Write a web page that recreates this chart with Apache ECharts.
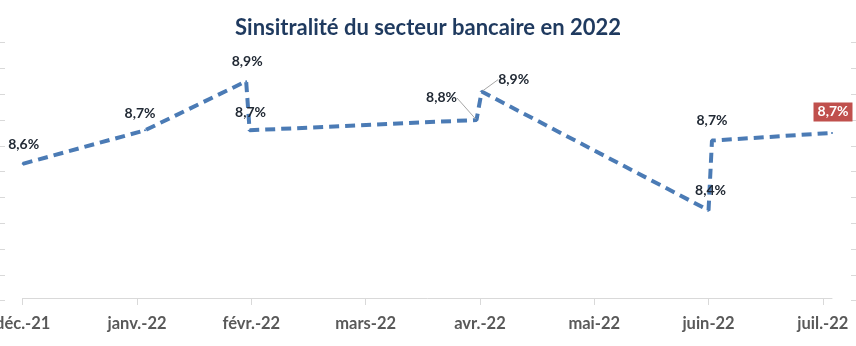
<!DOCTYPE html>
<html>
<head>
<meta charset="utf-8">
<script src="https://cdn.jsdelivr.net/npm/echarts@6/dist/echarts.min.js"></script>
<style>
html,body{margin:0;padding:0;background:#fff;}
#chart{width:856px;height:346px;}
</style>
</head>
<body>
<div id="chart"></div>
<script>
// ---- data ----
const titleText = 'Sinsitralité du secteur bancaire en 2022';
const monthLabels = ['déc.-21', 'janv.-22', 'févr.-22', 'mars-22', 'avr.-22', 'mai-22', 'juin-22', 'juil.-22'];
const monthTicks = [0, 1, 2, 3, 4, 5, 6, 7];
// position of each observation along the month axis (0 = déc.-21)
const obsPosition = [0, 1.07, 1.955, 1.985, 3.97, 4.015, 6.0, 6.03, 7.08];
// sinistralité (%)
const obsValue = [8.59, 8.72, 8.91, 8.72, 8.76, 8.87, 8.41, 8.68, 8.71];

// ---- layout (label placement relative to point, px) ----
const labelShift = [[1,-19],[-5,-17],[1,-20],[1,-18],[-35,-22],[32,-12],[2,-20],[0,-20],[1,-21]];
const leaderIdx = [4, 5];
const highlightIdx = 8;

const chart = echarts.init(document.getElementById('chart'), null, {renderer: 'canvas'});

const seriesData = obsPosition.map((x, i) => {
  const item = {value: [x, obsValue[i]]};
  if (leaderIdx.includes(i)) {
    item.labelLine = {show: true, lineStyle: {color: '#A6A6A6', width: 1}};
  }
  if (i === highlightIdx) {
    item.label = {backgroundColor: '#C0504D', color: '#ffffff', padding: [3, 4, 2, 4]};
  }
  return item;
});

const faintTick = {show: true, length: 5, inside: false, lineStyle: {color: '#D9D9D9', width: 1}};

const option = {
  backgroundColor: '#ffffff',
  animation: false,
  title: {
    text: titleText,
    left: 'center',
    top: 12,
    textStyle: {fontFamily: 'Lato', fontWeight: 'bold', fontSize: 22, color: '#1F3A5F'}
  },
  grid: [
    {left: 22.7, right: 24, top: 40, bottom: 48, outerBoundsMode: 'none', containLabel: false},
    {left: 5, right: 5, top: 42.7, bottom: 45.3, outerBoundsMode: 'none', containLabel: false}
  ],
  xAxis: [
    {
      type: 'value', gridIndex: 0, min: 0, max: 7.08,
      axisLine: {show: true, lineStyle: {color: '#D9D9D9', width: 1}},
      axisTick: {show: true, length: 7, customValues: monthTicks, lineStyle: {color: '#D9D9D9'}},
      axisLabel: {
        show: true, customValues: monthTicks, margin: 17, hideOverlap: false,
        formatter: v => monthLabels[Math.round(v)],
        fontFamily: 'Lato', fontWeight: 'bold', fontSize: 16.5, color: '#595959'
      },
      splitLine: {show: false}
    },
    {type: 'value', gridIndex: 1, show: false, min: 0, max: 1}
  ],
  yAxis: [
    {type: 'value', gridIndex: 0, min: 8.07, max: 9.07, show: false, splitLine: {show: false}},
    {type: 'value', gridIndex: 1, position: 'left', min: 0, max: 10, interval: 1,
      axisLine: {show: false}, axisTick: faintTick, axisLabel: {show: false}, splitLine: {show: false}},
    {type: 'value', gridIndex: 1, position: 'right', min: 0, max: 10, interval: 1,
      axisLine: {show: false}, axisTick: faintTick, axisLabel: {show: false}, splitLine: {show: false}}
  ],
  series: [{
    type: 'line',
    xAxisIndex: 0, yAxisIndex: 0,
    data: seriesData,
    symbol: 'circle',
    symbolSize: 2,
    itemStyle: {color: '#4B7BB5'},
    lineStyle: {color: '#4B7BB5', width: 4, type: [10, 6], cap: 'butt'},
    label: {
      show: true,
      position: 'inside',
      formatter: p => p.value[1].toFixed(1).replace('.', ',') + '%',
      fontFamily: 'Lato', fontWeight: 'bold', fontSize: 14, color: '#222A35'
    },
    labelLayout: p => {
      const s = labelShift[p.dataIndex];
      return {dx: s[0], dy: s[1]};
    },
    emphasis: {disabled: true}
  }]
};
chart.setOption(option);
</script>
</body>
</html>
